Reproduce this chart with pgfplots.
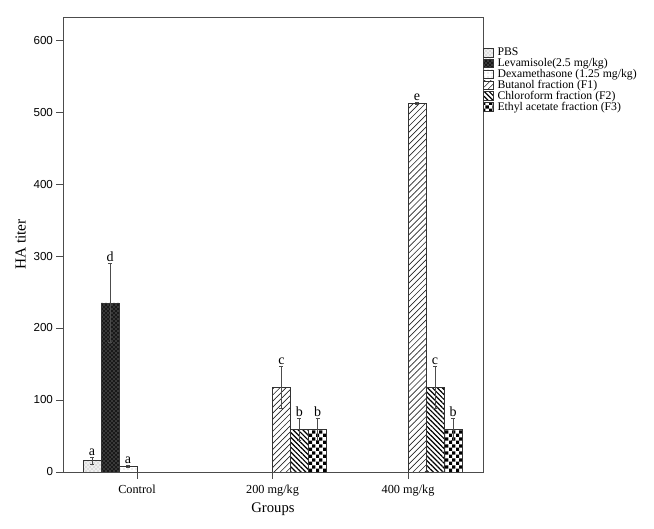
\documentclass[border=0pt]{standalone}
\usepackage{pgfplots}
\pgfplotsset{compat=1.18}
\usepackage{fontspec}
\setmainfont{Liberation Serif}
\setsansfont{Liberation Sans}
\usetikzlibrary{patterns,patterns.meta,calc}

\tikzdeclarepattern{
  name=checker, type=uncolored,
  bounding box={(0,0) and (5.4pt,5.4pt)},
  tile size={(5.4pt,5.4pt)},
  code={\fill (0,0) rectangle (2.7pt,2.7pt); \fill (2.7pt,2.7pt) rectangle (5.4pt,5.4pt);}
}

\pgfplotsset{
  hbar/.style={ybar, bar width=0.1328, bar shift=0pt, draw=black!80, line width=0.4pt,
    error bars/y dir=both, error bars/y explicit,
    error bars/error bar style={black!70, line width=0.5pt},
    error bars/error mark options={rotate=90, mark size=1.5pt, black!70}},
}

\begin{document}
\begin{tikzpicture}
\begin{axis}[
  scale only axis,
  width=315pt, height=341.25pt,
  xmin=-0.546, xmax=2.553,
  ymin=0, ymax=632,
  axis line style={black!70, line width=0.7pt},
  xtick={0,1,2},
  xticklabels={Control, 200 mg/kg, 400 mg/kg},
  ytick={0,100,...,600},
  tick pos=left, tick align=outside,
  major tick length=5pt,
  tick style={black!70, line width=0.7pt},
  x tick label style={font=\fontsize{9.2}{10}\selectfont, yshift=-1.5pt},
  y tick label style={font=\fontsize{8.7}{10}\selectfont\sffamily, /pgf/number format/assume math mode=true, xshift=1pt},
  xlabel={Groups}, ylabel={HA titer},
  xlabel style={font=\fontsize{11}{12}\selectfont, yshift=2pt},
  ylabel style={font=\fontsize{11.5}{12}\selectfont, yshift=-1pt},
  legend style={draw=none, fill=none, at={(rel axis cs:1.0,0.935)}, anchor=north west,
    font=\fontsize{8.8}{8.4}\selectfont, row sep=-0.2pt, inner sep=0pt,
    nodes={inner sep=0.5pt, text height=6pt, text depth=1.4pt}},
  legend cell align=left,
  legend image code/.code={\draw[#1] (0pt,-3.3pt) rectangle (7.3pt,3.3pt); \path (9.8pt,0pt);},
]
\addplot[hbar, fill=gray!12, postaction={pattern=crosshatch dots, pattern color=gray!75}]
  coordinates {(-0.332,16) +- (0,5)};
\addlegendentry{PBS}
\addplot[hbar, fill=black!90, postaction={pattern=crosshatch dots, pattern color=gray!70}]
  coordinates {(-0.199,235) +- (0,55)};
\addlegendentry{Levamisole(2.5 mg/kg)}
\addplot[hbar, fill=white, postaction={pattern=dots, pattern color=gray!60}]
  coordinates {(-0.066,8) +- (0,2)};
\addlegendentry{Dexamethasone (1.25 mg/kg)}
\addplot[hbar, fill=white, postaction={pattern={Lines[angle=45,distance=3.2pt,line width=0.5pt]}, pattern color=black!85}]
  coordinates {(1.066,118) +- (0,29) (2.066,512) +- (0,1)};
\addlegendentry{Butanol fraction (F1)}
\addplot[hbar, fill=white, postaction={pattern={Lines[angle=-45,distance=2.6pt,line width=0.9pt]}, pattern color=black}]
  coordinates {(1.199,59) +- (0,15) (2.199,118) +- (0,29)};
\addlegendentry{Chloroform fraction (F2)}
\addplot[hbar, fill=white, postaction={pattern=checker, pattern color=black}]
  coordinates {(1.332,59) +- (0,15) (2.332,59) +- (0,15)};
\addlegendentry{Ethyl acetate fraction (F3)}
\addplot[draw=none, mark=none, forget plot, nodes near coords, point meta=explicit symbolic,
  nodes near coords style={anchor=south, inner sep=1pt, font=\fontsize{10.5}{12}\selectfont}]
  coordinates {(-0.332,21) [a] (-0.199,290) [d] (-0.066,10) [a]
    (1.066,147) [c] (1.199,74) [b] (1.332,74) [b]
    (2.066,513) [e] (2.199,147) [c] (2.332,74) [b]};
\coordinate (O) at (rel axis cs:0,0);
\coordinate (T) at (rel axis cs:1,1);
\end{axis}
\path ($(O)+(-47.25pt,-42.75pt)$) rectangle ($(T)+(128.25pt,12.75pt)$);
\end{tikzpicture}
\end{document}
